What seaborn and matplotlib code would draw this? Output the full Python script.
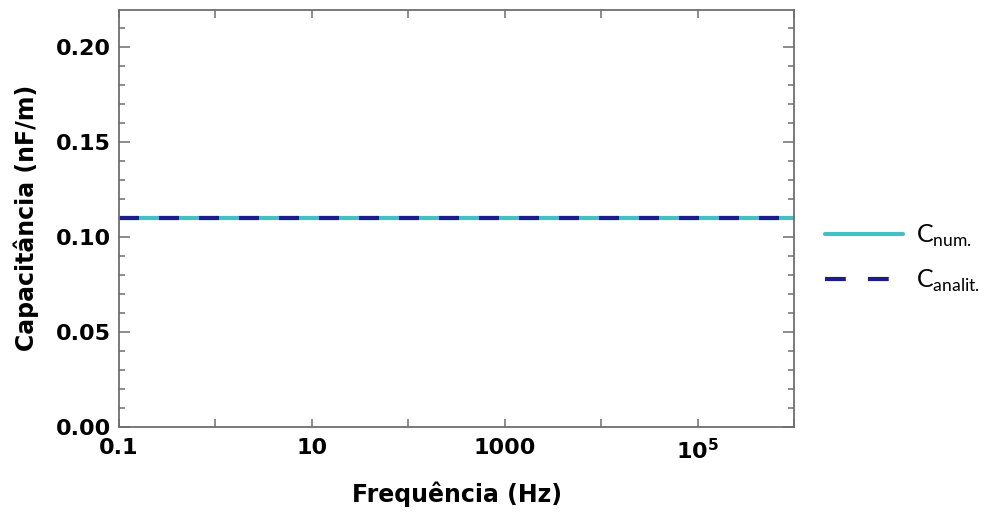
import pandas as pd
import seaborn as sns
import matplotlib.pyplot as plt
from matplotlib.lines import Line2D
from matplotlib.ticker import FixedLocator, MultipleLocator, NullLocator

# data
freq_hz = [0.1, 1, 10, 100, 1000, 1e4, 1e5, 1e6]
c_num = [0.1098, 0.1098, 0.1098, 0.1098, 0.1098, 0.1098, 0.1098, 0.1098]
c_analit = [0.1098, 0.1098, 0.1098, 0.1098, 0.1098, 0.1098, 0.1098, 0.1098]
series_names = ['num', 'analit']
x_tick_labels = ['0.1', '', '10', '', '1000', '', r'$\mathbf{10^5}$', '']

sns.set_style('ticks')
plt.rcParams['font.family'] = ['DejaVu Sans']
plt.rcParams['mathtext.fontset'] = 'custom'
plt.rcParams['mathtext.rm'] = 'Lato'
plt.rcParams['mathtext.bf'] = 'DejaVu Sans:bold'
plt.rcParams['text.color'] = 'black'
plt.rcParams['axes.labelcolor'] = 'black'

df = pd.concat([
    pd.DataFrame({'f': freq_hz, 'C': c_num, 'serie': 'num'}),
    pd.DataFrame({'f': freq_hz, 'C': c_analit, 'serie': 'analit'}),
])

cyan = '#45C0C0'
navy = '#1C1C8E'
edge = '#6E6E6E'

fig = plt.figure(figsize=(9.92, 5.13), dpi=100)
ax = fig.add_axes([119 / 992, 1 - 427 / 513, (794 - 119) / 992, (427 - 9.5) / 513])

sns.lineplot(data=df, x='f', y='C', hue='serie', style='serie',
             hue_order=series_names, style_order=series_names,
             palette={'num': cyan, 'analit': navy},
             dashes={'num': '', 'analit': (4.8, 4.8)},
             linewidth=3, legend=False, ax=ax)

ax.set_xscale('log')
ax.set_xlim(0.1, 1e6)
ax.set_ylim(0, 0.2195)

ax.xaxis.set_major_locator(FixedLocator(freq_hz))
ax.xaxis.set_minor_locator(NullLocator())
ax.set_xticklabels(x_tick_labels)
ax.yaxis.set_major_locator(MultipleLocator(0.05))
ax.yaxis.set_minor_locator(MultipleLocator(0.01))
ax.yaxis.set_major_formatter(plt.FormatStrFormatter('%.2f'))

for s in ax.spines.values():
    s.set_visible(True)
    s.set_color(edge)
    s.set_linewidth(1.3)

ax.tick_params(which='both', direction='in', top=True, right=True, color=edge, width=1.1,
               labelcolor='black')
ax.tick_params(axis='x', which='major', length=6, pad=8)
ax.tick_params(axis='y', which='major', length=8, pad=6)
ax.tick_params(axis='y', which='minor', length=4.5)
for lab in ax.get_xticklabels() + ax.get_yticklabels():
    lab.set_fontsize(16)
    lab.set_fontweight('bold')

ax.set_xlabel('Frequência (Hz)', fontsize=17, fontweight='bold', labelpad=13)
ax.set_ylabel('Capacitância (nF/m)', fontsize=17, fontweight='bold', labelpad=12)

handles = [Line2D([0], [0], color=cyan, lw=3),
           Line2D([0], [0], color=navy, lw=3, dashes=(5, 5.3))]
labels = [r'C$_{\mathrm{num.}}$', r'C$_{\mathrm{analit.}}$']
fig.legend(handles, labels, loc='center left',
           bbox_to_anchor=(825 / 992, 1 - 258 / 513), bbox_transform=fig.transFigure,
           frameon=False, handlelength=3.1, handletextpad=0.55,
           labelspacing=0.75, borderpad=0, borderaxespad=0,
           prop={'family': 'Lato', 'size': 18})

fig.savefig('out.png', dpi=100)
